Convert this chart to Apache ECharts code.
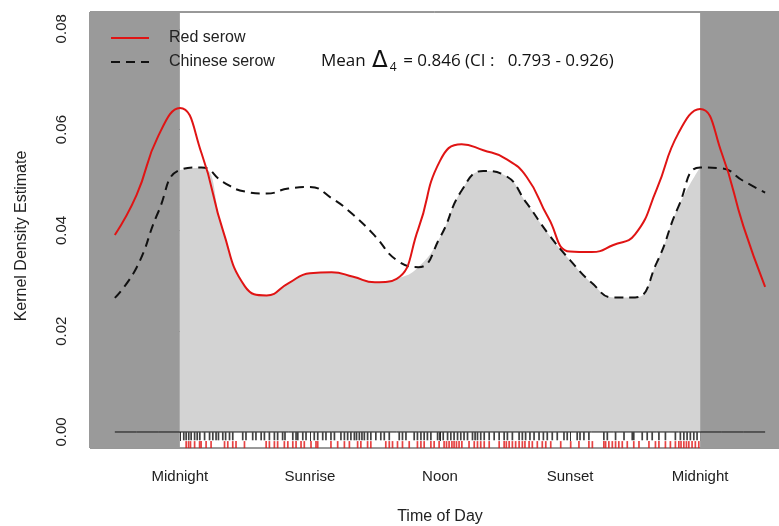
<!DOCTYPE html>
<html>
<head>
<meta charset="utf-8">
<title>Activity overlap</title>
<script src="https://cdn.jsdelivr.net/npm/echarts@6/dist/echarts.min.js"></script>
<style>
html, body { margin: 0; padding: 0; background: #fff; }
#main { width: 779px; height: 526px; }
</style>
</head>
<body>
<div id="main"></div>
<script>
// kernel density, one value per hour (-3 .. 27)
var hours = [-3, -2, -1, 0, 1, 2, 3, 4, 5, 6, 7, 8, 9, 10, 11, 12, 13, 14, 15,
    16, 17, 18, 19, 20, 21, 22, 23, 24, 25, 26, 27];
var redSerow = [0.0391, 0.0470, 0.0587, 0.0643, 0.0553, 0.0398, 0.0289, 0.0271,
    0.0295, 0.0315, 0.0317, 0.0308, 0.0297, 0.0304, 0.0403, 0.0538, 0.0571,
    0.0559, 0.0543, 0.0506, 0.0425, 0.0358, 0.0357, 0.0371, 0.0392, 0.0482,
    0.0593, 0.0641, 0.0553, 0.0408, 0.0288];
var chineseSerow = [0.0266, 0.0326, 0.0436, 0.0520, 0.0525, 0.0496, 0.0477,
    0.0473, 0.0483, 0.0486, 0.0464, 0.0431, 0.0389, 0.0341, 0.0327, 0.0386,
    0.0479, 0.0518, 0.0509, 0.0454, 0.0393, 0.0341, 0.0296, 0.0267, 0.0267,
    0.0336, 0.0447, 0.0525, 0.0523, 0.0498, 0.0475];

var tickHours = [0, 6, 12, 18, 24];
var tickLabels = ['Midnight', 'Sunrise', 'Noon', 'Sunset', 'Midnight'];
var yTicks = [0, 0.02, 0.04, 0.06, 0.08];

// detection times (rug)
var chineseTimes = [0.18, 0.29, 0.41, 0.52, 0.68, 0.80, 0.92, 1.14, 1.37, 1.52,
    1.67, 1.78, 1.98, 2.11, 2.29, 2.44, 2.90, 3.05, 3.36, 3.51, 3.75, 3.90, 4.13,
    4.36, 4.51, 4.74, 4.85, 5.21, 5.36, 5.44, 5.67, 5.82, 6.20, 6.36, 6.59, 6.74,
    6.97, 7.13, 7.43, 7.59, 7.74, 7.89, 8.05, 8.15, 8.28, 8.40, 8.51, 8.66, 8.81,
    9.04, 9.27, 9.43, 9.66, 10.12, 10.27, 10.43, 10.81, 10.96, 11.12, 11.27,
    11.42, 11.58, 11.89, 11.99, 12.15, 12.35, 12.50, 12.65, 12.81, 12.96, 13.11,
    13.27, 13.50, 13.62, 13.73, 13.88, 14.04, 14.27, 14.50, 14.73, 14.96, 15.11,
    15.34, 15.65, 15.80, 15.95, 16.15, 16.34, 16.57, 16.77, 16.95, 17.18, 17.41,
    17.72, 17.87, 18.33, 18.46, 18.64, 18.87, 19.56, 19.72, 20.10, 20.49, 20.87,
    20.94, 21.33, 21.56, 21.79, 22.10, 22.40, 22.86, 23.09, 23.25, 23.40, 23.55,
    23.71, 23.86];
var redTimes = [0.29, 0.40, 0.49, 0.68, 0.91, 0.98, 1.21, 1.44, 2.06, 2.21, 2.44,
    2.59, 2.98, 3.98, 4.13, 4.36, 4.51, 4.82, 4.98, 5.21, 5.36, 5.59, 5.74, 6.05,
    6.28, 6.36, 6.97, 7.28, 7.59, 7.82, 8.20, 8.35, 8.66, 8.81, 9.50, 9.66, 9.81,
    10.04, 10.27, 10.58, 10.96, 11.12, 11.27, 11.58, 11.73, 11.96, 12.19, 12.30,
    12.42, 12.55, 12.65, 12.76, 12.88, 13.01, 13.34, 13.58, 13.73, 13.88, 14.04,
    14.27, 14.73, 14.96, 15.06, 15.19, 15.34, 15.49, 15.65, 15.80, 15.92, 16.11,
    16.26, 16.49, 16.72, 16.88, 17.11, 17.57, 18.03, 18.41, 18.87, 19.03, 19.56,
    19.64, 19.79, 19.95, 20.10, 20.25, 20.41, 20.64, 20.94, 21.18, 21.64, 21.94,
    22.10, 22.40, 22.63, 22.86, 23.02, 23.12, 23.25, 23.37, 23.48, 23.63, 23.78,
    23.94];

var RED = '#e01414';
var FONT = 'Liberation Sans, Arial, sans-serif';

var redData = [], chineseData = [], overlapData = [], baseData = [];
for (var i = 0; i < hours.length; i++) {
    redData.push([hours[i], redSerow[i]]);
    chineseData.push([hours[i], chineseSerow[i]]);
    baseData.push([hours[i], 0]);
    if (hours[i] >= 0 && hours[i] <= 24) {
        overlapData.push([hours[i], Math.min(redSerow[i], chineseSerow[i])]);
    }
}
var chineseRug = chineseTimes.map(function (t) { return [t, -0.00085]; });
var redRug = redTimes.map(function (t) { return [t, -0.0025]; });

var myChart = echarts.init(document.getElementById('main'));
var option = {
    animation: false,
    backgroundColor: '#fff',
    grid: {
        left: 90, right: -1, top: 12, bottom: 78,
        show: true, borderColor: '#333', borderWidth: 1, backgroundColor: 'transparent'
    },
    legend: {
        data: ['Red serow', 'Chinese serow'],
        orient: 'vertical',
        left: 110, top: 30,
        padding: 0,
        itemWidth: 38, itemHeight: 14, itemGap: 8,
        itemStyle: { opacity: 0 },
        lineStyle: { width: 2 },
        textStyle: { fontSize: 16, fontFamily: FONT, color: '#222', padding: [0, 0, 0, 15] }
    },
    xAxis: {
        type: 'value',
        min: -4.146, max: 27.64,
        axisLine: { show: false },
        splitLine: { show: false },
        axisTick: { show: true, length: 9, customValues: tickHours, lineStyle: { color: '#333' } },
        axisLabel: {
            customValues: tickHours, margin: 21, fontSize: 15, fontFamily: FONT, color: '#222',
            formatter: function (v) { return tickLabels[tickHours.indexOf(v)]; }
        }
    },
    yAxis: {
        type: 'value',
        min: -0.003175, max: 0.08333,
        axisLine: { show: false },
        splitLine: { show: false },
        axisTick: { show: true, length: 10, customValues: yTicks, lineStyle: { color: '#333' } },
        axisLabel: {
            customValues: yTicks, rotate: 90, margin: 21, fontSize: 15, fontFamily: FONT, color: '#222',
            formatter: function (v) { return v.toFixed(2); }
        }
    },
    graphic: [
        {
            type: 'text', x: 22, y: 236, rotation: Math.PI / 2,
            style: { text: 'Kernel Density Estimate', fontSize: 16, fontFamily: FONT, fill: '#222',
                align: 'center', verticalAlign: 'middle' }
        },
        {
            type: 'text', x: 440, y: 517,
            style: { text: 'Time of Day', fontSize: 16, fontFamily: FONT, fill: '#222',
                align: 'center', verticalAlign: 'middle' }
        },
        {
            type: 'text', x: 321, y: 61,
            style: {
                text: '{t|Mean }{d|Δ}{s|4}{t| = 0.846 (CI :   0.793 - 0.926)}',
                verticalAlign: 'middle', align: 'left',
                rich: {
                    t: { fontSize: 17, fontFamily: 'Open Sans', fill: '#111' },
                    d: { fontSize: 23, fontFamily: 'DejaVu Sans', fill: '#111', padding: [0, 2, 0, 2] },
                    s: { fontSize: 12, fontFamily: 'Open Sans', fill: '#111', padding: [14, 2, 0, 0] }
                }
            }
        }
    ],
    series: [
        {
            name: 'overlap',
            type: 'line',
            data: overlapData,
            smooth: true,
            symbol: 'none',
            silent: true,
            lineStyle: { width: 0 },
            areaStyle: { color: '#d3d3d3', opacity: 1 },
            markArea: {
                silent: true,
                itemStyle: { color: '#9a9a9a' },
                data: [
                    [{ xAxis: -4.146 }, { xAxis: 0 }],
                    [{ xAxis: 24 }, { xAxis: 27.64 }]
                ]
            }
        },
        {
            name: 'baseline',
            type: 'line',
            data: baseData,
            symbol: 'none',
            silent: true,
            lineStyle: { color: '#111', width: 1 }
        },
        {
            name: 'Chinese serow',
            type: 'line',
            data: chineseData,
            smooth: true,
            symbol: 'none',
            color: '#111',
            lineStyle: { color: '#111', width: 2, type: [9, 6] }
        },
        {
            name: 'Red serow',
            type: 'line',
            data: redData,
            smooth: true,
            symbol: 'none',
            color: RED,
            lineStyle: { color: RED, width: 2 }
        },
        {
            name: 'chinese rug',
            type: 'scatter',
            data: chineseRug,
            symbol: 'rect',
            symbolSize: [1.7, 8],
            silent: true,
            itemStyle: { color: '#111' }
        },
        {
            name: 'red rug',
            type: 'scatter',
            data: redRug,
            symbol: 'rect',
            symbolSize: [1.7, 7],
            silent: true,
            itemStyle: { color: RED }
        }
    ]
};
myChart.setOption(option);
</script>
</body>
</html>
